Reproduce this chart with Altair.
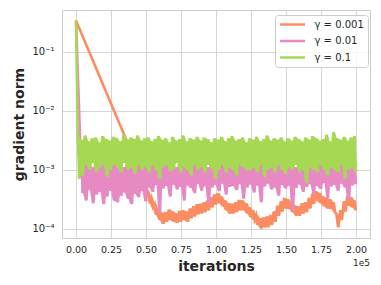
import altair as alt
import pandas as pd

# ---------------- data ----------------
series_names = ["γ = 0.001", "γ = 0.01", "γ = 0.1"]
series_colors = ["#fc8d62", "#e78ac3", "#a6d854"]

x_ticks = [0, 25000, 50000, 75000, 100000, 125000, 150000, 175000, 200000]
y_ticks = [0.0001, 0.001, 0.01, 0.1]
y_tick_text = {0.0001: "10⁻⁴", 0.001: "10⁻³", 0.01: "10⁻²", 0.1: "10⁻¹"}

# gamma = 0.001 : smooth descent, then a noisy plateau
orange_head_iter = [0, 35000, 45000, 50000]
orange_head_val = [0.34, 0.0036, 0.0011, 0.0005]
orange_noise_start = 51250
orange_hi = [0.00043, 0.00034, 0.00026, 0.00021, 0.000185, 0.00019, 0.00021, 0.000195, 0.00018, 0.0002,
             0.000205, 0.000195, 0.00022, 0.00024, 0.00026, 0.000265, 0.00028, 0.0003, 0.00034, 0.00038,
             0.0004, 0.00035, 0.0003, 0.00027, 0.000265, 0.00028, 0.000305, 0.0003, 0.00027, 0.00023,
             0.000205, 0.00017, 0.00015, 0.000155, 0.00016, 0.00017, 0.000195, 0.000245, 0.00029, 0.00033,
             0.000315, 0.00028, 0.000245, 0.00024, 0.00027, 0.00028, 0.00033, 0.00039, 0.00043, 0.0004,
             0.00035, 0.00033, 0.000315, 0.00028, 0.000175, 0.000205, 0.00029, 0.00036, 0.00034, 0.0003]
orange_lo = [0.000295, 0.00023, 0.00017, 0.00014, 0.00012, 0.00013, 0.00014, 0.00013, 0.000125, 0.00013,
             0.00014, 0.00013, 0.00015, 0.00016, 0.000175, 0.00018, 0.00019, 0.000205, 0.00023, 0.000255,
             0.00027, 0.00024, 0.000205, 0.00018, 0.00018, 0.00019, 0.000205, 0.000205, 0.00018, 0.000155,
             0.00014, 0.000115, 0.0001, 0.000105, 0.000105, 0.000115, 0.00013, 0.000165, 0.000195, 0.00022,
             0.000215, 0.00019, 0.000165, 0.000165, 0.00018, 0.00019, 0.00022, 0.00026, 0.000295, 0.00027,
             0.00024, 0.00022, 0.000215, 0.00019, 0.000105, 0.00014, 0.000195, 0.000245, 0.00023, 0.000205]

# gamma = 0.01
pink_head_iter = [0, 3000]
pink_head_val = [0.34, 0.003]
pink_noise_start = 3750
pink_hi = [0.0013, 0.0012, 0.0014, 0.0011, 0.0013, 0.0012, 0.0015, 0.0011, 0.0013, 0.0012,
           0.0014, 0.0012, 0.0011, 0.0013, 0.0012, 0.0014, 0.0011, 0.0013, 0.0012, 0.0014,
           0.0012, 0.0013, 0.0011, 0.0014, 0.0012, 0.0013, 0.0012, 0.0011, 0.0014, 0.0012,
           0.0013, 0.0011, 0.0012, 0.0014, 0.0012, 0.0013, 0.0011, 0.0012, 0.0014, 0.0013,
           0.0012, 0.0011, 0.0013, 0.0012, 0.0014, 0.0012, 0.0011, 0.0013, 0.0012, 0.0014,
           0.0011, 0.0013, 0.0012, 0.0014, 0.0012, 0.0011, 0.0013, 0.0012, 0.0014, 0.0012,
           0.0013, 0.0011, 0.0012, 0.0014, 0.0013, 0.0012, 0.0011, 0.0013, 0.0012, 0.0014,
           0.0012, 0.0013, 0.0011, 0.0012, 0.0014, 0.0012, 0.0013, 0.0011, 0.0012]
pink_lo = [0.0004, 0.0003, 0.00045, 0.00027, 0.00038, 0.00042, 0.00026, 0.00035, 0.00044, 0.0003,
           0.00028, 0.00036, 0.00041, 0.00032, 0.00026, 0.00039, 0.00034, 0.00043, 0.00029,
           0.0005, 0.00042, 0.00055, 0.00019, 0.00048, 0.00053, 0.00035, 0.00056, 0.00046, 0.00051,
           0.0003, 0.00054, 0.00049, 0.0004, 0.00057, 0.00044, 0.00052, 0.00026, 0.0005, 0.00055,
           0.00043, 0.00058, 0.00038, 0.00051,
           0.00053, 0.00045, 0.00057, 0.00032, 0.0005, 0.00056, 0.00041, 0.00054, 0.00028, 0.00052,
           0.00058, 0.00046, 0.0005, 0.00036, 0.00055, 0.00048, 0.00053, 0.0002, 0.00049, 0.00056,
           0.00042, 0.00051, 0.00057, 0.00039, 0.00053, 0.00047, 0.00059, 0.00033, 0.00052, 0.00055,
           0.00044, 0.00058, 0.0005, 0.00031, 0.00054, 0.00057]

# gamma = 0.1
green_head_iter = [0]
green_head_val = [0.34]
green_noise_start = 1250
green_hi = [0.0036, 0.0032, 0.0038, 0.003, 0.0034, 0.0035, 0.0029, 0.0037, 0.0033, 0.0031,
            0.0036, 0.0034, 0.003, 0.0039, 0.0032, 0.0035, 0.0033, 0.0038, 0.0031, 0.0034,
            0.0035, 0.003, 0.0033, 0.0037, 0.0032, 0.0034, 0.0029, 0.0036, 0.0031, 0.0033,
            0.0038, 0.003, 0.0034, 0.0032, 0.0036, 0.0031, 0.0035, 0.0033, 0.0029, 0.0034,
            0.0032, 0.0036, 0.003, 0.0034, 0.0037, 0.0031, 0.0033, 0.0035, 0.0029, 0.0034,
            0.0032, 0.0036, 0.003, 0.0033, 0.0038, 0.0031, 0.0034, 0.0032, 0.0035, 0.003,
            0.0034, 0.0031, 0.0036, 0.0033, 0.003, 0.0035, 0.0032, 0.0037, 0.0034, 0.0031,
            0.0033, 0.0039, 0.003, 0.0043, 0.0034, 0.0032, 0.0036, 0.0031, 0.0035, 0.0037]
green_lo = [0.0007, 0.0008, 0.0012, 0.001, 0.0013, 0.0009, 0.0011, 0.0012, 0.00075, 0.001,
            0.0012, 0.0011, 0.0009, 0.0013, 0.001, 0.0011, 0.00085, 0.0012, 0.001, 0.0011,
            0.0009, 0.0012, 0.001, 0.0007, 0.0011, 0.0012, 0.00095, 0.001, 0.0013, 0.0009,
            0.0011, 0.001, 0.0008, 0.0012, 0.001, 0.0011, 0.0009, 0.0012, 0.00105, 0.0007,
            0.001, 0.0012, 0.0009, 0.0011, 0.001, 0.0008, 0.0012, 0.0011, 0.00095, 0.001,
            0.0011, 0.0009, 0.0012, 0.00075, 0.001, 0.0011, 0.0009, 0.0012, 0.001, 0.00085,
            0.0011, 0.001, 0.0012, 0.0009, 0.001, 0.0006, 0.0011, 0.001, 0.0009, 0.0012,
            0.001, 0.0008, 0.0011, 0.001, 0.0009, 0.0012, 0.0007, 0.001, 0.0011, 0.0009]

NOISE_STEP = 2500


def build_line(name, head_iter, head_val, start, hi, lo):
    rows = [(t, v) for t, v in zip(head_iter, head_val)]
    for k, (h, l) in enumerate(zip(hi, lo)):
        t = start + k * NOISE_STEP
        rows.append((t, h))
        rows.append((t + NOISE_STEP / 2, l))
    df = pd.DataFrame(rows, columns=["iter", "value"])
    df["series"] = name
    return df


def build_band(start, hi, lo):
    rows = []
    for k, (h, l) in enumerate(zip(hi, lo)):
        t = start + k * NOISE_STEP
        rows.append((t, l, h))
        rows.append((t + NOISE_STEP / 2, l, h))
    return pd.DataFrame(rows, columns=["iter", "value", "hi"])


lines = [
    build_line(series_names[0], orange_head_iter, orange_head_val, orange_noise_start, orange_hi, orange_lo),
    build_line(series_names[1], pink_head_iter, pink_head_val, pink_noise_start, pink_hi, pink_lo),
    build_line(series_names[2], green_head_iter, green_head_val, green_noise_start, green_hi, green_lo),
]
bands = [
    build_band(orange_noise_start, orange_hi, orange_lo),
    build_band(pink_noise_start, pink_hi, pink_lo),
    build_band(green_noise_start, green_hi, green_lo),
]

W, H = 308, 228
FONT = "DejaVu Sans"
TXT = "#262626"
GRID = "#d6d6d6"

label_expr = " : ".join(
    [f"datum.value < {v * 1.5} && datum.value > {v / 1.5} ? '{s}'" for v, s in y_tick_text.items()]
) + " : ''"

x_scale = alt.Scale(domain=[-10000, 210000], nice=False, zero=False)
y_scale = alt.Scale(type="log", domain=[6.92e-5, 0.511], nice=False)

x_enc = alt.X(
    "iter:Q",
    scale=x_scale,
    axis=alt.Axis(
        values=x_ticks,
        labelExpr="format(datum.value / 100000, '.2f')",
        title="iterations",
        titleFontWeight="bold",
        titleFontSize=14,
        titleColor=TXT,
        titleBaseline="alphabetic",
        titleY=32,
        titleX=W / 2,
        labelFontSize=9.5,
        labelColor=TXT,
        labelPadding=6,
        ticks=False,
        domain=False,
        grid=True,
        gridColor=GRID,
        labelFont=FONT,
        titleFont=FONT,
    ),
)
y_enc = alt.Y(
    "value:Q",
    scale=y_scale,
    axis=alt.Axis(
        values=y_ticks,
        labelExpr=label_expr,
        title="gradient norm",
        titleFontWeight="bold",
        titleFontSize=14,
        titleColor=TXT,
        titleBaseline="alphabetic",
        titleAngle=270,
        titleX=-38.5,
        titleY=H / 2,
        labelFontSize=10,
        labelColor=TXT,
        labelPadding=8,
        ticks=False,
        domain=False,
        grid=True,
        gridColor=GRID,
        labelFont=FONT,
        titleFont=FONT,
    ),
)
color_enc = alt.Color(
    "series:N",
    scale=alt.Scale(domain=series_names, range=series_colors),
    sort=series_names,
    legend=alt.Legend(
        title=None,
        orient="none",
        legendX=213,
        legendY=5,
        symbolType="stroke",
        symbolSize=625,
        symbolStrokeWidth=2.5,
        clipHeight=12,
        rowPadding=4.5,
        labelOffset=8,
        labelFontSize=10,
        labelFont=FONT,
        labelColor=TXT,
        padding=3.5,
        strokeColor="#cccccc",
        fillColor="rgba(255,255,255,0.8)",
        cornerRadius=3,
    ),
)


def line_layer(df):
    return alt.Chart(df).mark_line(strokeWidth=2.6, clip=True).encode(
        x=x_enc, y=y_enc, color=color_enc, order="iter:Q"
    )


def band_layer(df, col):
    return alt.Chart(df).mark_area(clip=True, opacity=1, color=col).encode(
        x=x_enc,
        y=y_enc,
        y2="hi:Q",
    )


offset_text = alt.Chart(pd.DataFrame({"t": ["1e5"]})).mark_text(
    align="right", baseline="middle", fontSize=9, font=FONT, color=TXT
).encode(text="t:N", x=alt.value(W), y=alt.value(252.5))

layers = []
for b, l, c in zip(bands, lines, series_colors):
    layers.append(band_layer(b, c))
    layers.append(line_layer(l))
layers.append(offset_text)

chart = (
    alt.layer(*layers)
    .properties(
        width=W,
        height=H,
        autosize=alt.AutoSizeParams(type="none"),
        padding={"left": 54, "top": 2, "right": 3, "bottom": 40},
        background="white",
    )
    .configure_view(stroke="#cccccc", strokeWidth=1)
)

chart.save("out.html", embed_options={"renderer": "svg", "actions": False})
